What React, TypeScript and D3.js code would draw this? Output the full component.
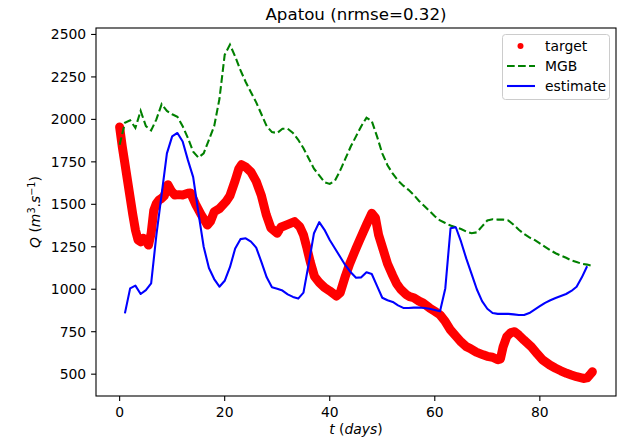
import React from "react";
import * as d3 from "d3";

const title = "Apatou (nrmse=0.32)";
const xTicks = [0, 20, 40, 60, 80];
const yTicks = [500, 750, 1000, 1250, 1500, 1750, 2000, 2250, 2500];

const mgbDays = d3.range(0, 91);
const mgbQ = [
  1850, 1980, 1995, 1950, 2050, 1960, 1935, 2000, 2090, 2050,
  2030, 2015, 1960, 1890, 1810, 1775, 1800, 1880, 1960, 2120,
  2380, 2440, 2370, 2290, 2220, 2160, 2100, 2030, 1960, 1925,
  1920, 1945, 1945, 1920, 1880, 1830, 1770, 1710, 1670, 1630,
  1620, 1640, 1700, 1770, 1840, 1900, 1960, 2010, 1990, 1900,
  1800, 1730, 1680, 1640, 1610, 1585, 1555, 1520, 1490, 1460,
  1430, 1405, 1390, 1375, 1365, 1355, 1340, 1330, 1335, 1370,
  1405, 1412, 1410, 1410, 1405, 1380, 1350, 1325, 1305, 1290,
  1270, 1250, 1230, 1212, 1198, 1185, 1170, 1160, 1150, 1145,
  1137,
];

const estDays = d3.range(1, 91);
const estQ = [
  858, 1005, 1021, 972, 995, 1035, 1320, 1560, 1800, 1900,
  1920, 1870, 1760, 1660, 1450, 1250, 1125, 1060, 1015, 1050,
  1130, 1240, 1295, 1300, 1280, 1245, 1160, 1070, 1012, 1003,
  992, 970, 955, 945, 980, 1150, 1330, 1395, 1350, 1290,
  1240, 1190, 1140, 1100, 1068, 1070, 1100, 1090, 1020, 950,
  935, 925, 905, 890, 890, 892, 893, 890, 885, 878,
  870, 1005, 1359, 1365, 1280, 1180, 1090, 1000, 930, 885,
  860, 855, 855, 855, 852, 848, 848, 860, 880, 900,
  920, 935, 948, 960, 972, 990, 1015, 1070, 1135,
];

const targetDays = [
  0, 0.5, 1, 1.5, 2, 2.5, 3, 3.5, 4, 4.5, 5, 5.5, 6, 6.5, 7, 7.5, 8, 8.5, 9.2, 9.8,
  10.5, 11.3, 12, 13, 13.5, 14.5, 15.5, 16.4, 16.7, 17.3, 18, 19, 20.3, 21, 22, 22.7, 23.2, 24, 25, 26,
  27, 27.9, 28.8, 30, 30.7, 31.7, 33.3, 34.3, 35, 35.6, 36.3, 37.1, 38, 39, 40, 41.3, 42, 43, 43.8, 45,
  45.7, 47, 48, 48.7, 49.3, 50.2, 51, 52, 52.7, 53.5, 54.5, 55.2, 56, 57, 57.8, 59, 60, 61, 62, 63,
  64.1, 65, 66, 66.7, 67.9, 69.2, 70, 71, 72, 72.5, 73, 73.7, 74.5, 75.2, 76, 77, 78.4, 79.5, 80.5, 81.9,
  83, 84, 85.1, 86, 87, 88.3, 89, 89.5, 90,
];
const targetQ = [
  1955, 1840, 1740, 1640, 1540, 1440, 1350, 1290, 1280, 1300, 1285, 1260, 1330, 1465, 1505, 1525, 1535, 1550, 1615, 1580,
  1555, 1557, 1555, 1565, 1567, 1498, 1440, 1395, 1378, 1400, 1456, 1475, 1518, 1550, 1640, 1710, 1733, 1720, 1690, 1635,
  1550, 1440, 1360, 1330, 1365, 1378, 1398, 1368, 1320, 1250, 1160, 1075, 1040, 1010, 990, 960, 980, 1080, 1150, 1240,
  1290, 1380, 1447, 1420, 1320, 1230, 1150, 1080, 1035, 1000, 970, 957, 950, 930, 918, 890, 870, 849, 810, 760,
  721, 690, 662, 652, 630, 614, 605, 600, 585, 590, 660, 721, 745, 750, 730, 700, 661, 620, 585, 554,
  535, 520, 505, 495, 485, 475, 478, 495, 514,
];

const W = 621;
const H = 442;
const L = 96, R = 616, T = 28, B = 396;
const FONT = "'DejaVu Sans', sans-serif";

export default function App() {
  const x = d3.scaleLinear().domain([-4.5, 94.5]).range([L, R]);
  const y = d3.scaleLinear().domain([371.5, 2538]).range([B, T]);

  const line = d3
    .line<[number, number]>()
    .x((d) => x(d[0]))
    .y((d) => y(d[1]));

  const mgbPath = line(mgbDays.map((d, i) => [d, mgbQ[i]] as [number, number])) || "";
  const estPath = line(estDays.map((d, i) => [d, estQ[i]] as [number, number])) || "";
  const tgtPath = line(targetDays.map((d, i) => [d, targetQ[i]] as [number, number])) || "";

  const fs = 13.9;
  const tick = 4.9;

  return (
    <svg width={W} height={H} style={{ display: "block", position: "absolute", left: 0, top: 0 }} fontFamily={FONT}>
      <rect x={0} y={0} width={W} height={H} fill="#fff" />
      <defs>
        <clipPath id="plotclip">
          <rect x={L} y={T} width={R - L} height={B - T} />
        </clipPath>
      </defs>
      <g clipPath="url(#plotclip)">
        <path d={tgtPath} fill="none" stroke="#ff0000" strokeWidth={9} strokeLinejoin="round" strokeLinecap="round" />
        <path d={mgbPath} fill="none" stroke="#008000" strokeWidth={2.08} strokeDasharray="7.7,3.33" />
        <path d={estPath} fill="none" stroke="#0000ff" strokeWidth={2.08} strokeLinejoin="round" />
      </g>
      {/* spines */}
      <rect x={L} y={T} width={R - L} height={B - T} fill="none" stroke="#000" strokeWidth={1.1} />
      {/* x ticks */}
      {xTicks.map((t) => (
        <g key={"x" + t}>
          <line x1={x(t)} x2={x(t)} y1={B} y2={B + tick} stroke="#000" strokeWidth={1.1} />
          <text x={x(t)} y={417} textAnchor="middle" fontSize={fs} fill="#000">
            {t}
          </text>
        </g>
      ))}
      {/* y ticks */}
      {yTicks.map((t) => (
        <g key={"y" + t}>
          <line x1={L - tick} x2={L} y1={y(t)} y2={y(t)} stroke="#000" strokeWidth={1.1} />
          <text x={L - tick - 4.9} y={y(t) + 5} textAnchor="end" fontSize={fs} fill="#000">
            {t}
          </text>
        </g>
      ))}
      {/* title */}
      <text x={(L + R) / 2} y={20} textAnchor="middle" fontSize={16.67} fill="#000">
        {title}
      </text>
      {/* x label */}
      <text x={(L + R) / 2} y={434} textAnchor="middle" fontSize={fs} fill="#000">
        <tspan fontStyle="italic">t</tspan>
        <tspan> (</tspan>
        <tspan fontStyle="italic">days</tspan>
        <tspan>)</tspan>
      </text>
      {/* y label */}
      <text transform={`translate(40, ${(T + B) / 2}) rotate(-90)`} textAnchor="middle" fontSize={fs} fill="#000">
        <tspan fontStyle="italic">Q</tspan>
        <tspan> (</tspan>
        <tspan fontStyle="italic">m</tspan>
        <tspan fontSize={9.7} dy={-5}>3</tspan>
        <tspan dy={5}>.</tspan>
        <tspan fontStyle="italic">s</tspan>
        <tspan fontSize={9.7} dy={-5}>−1</tspan>
        <tspan dy={5}>)</tspan>
      </text>
      {/* legend */}
      <g>
        <rect x={502.5} y={34.5} width={107} height={65} rx={3} fill="#fff" fillOpacity={0.8} stroke="#cccccc" strokeWidth={1} />
        <circle cx={520.5} cy={46} r={3} fill="#ff0000" />
        <text x={545} y={51} fontSize={fs} fill="#000">target</text>
        <line x1={507} x2={535} y1={66} y2={66} stroke="#008000" strokeWidth={2.08} strokeDasharray="7.7,3.33" />
        <text x={545} y={71} fontSize={fs} fill="#000">MGB</text>
        <line x1={507} x2={535} y1={86} y2={86} stroke="#0000ff" strokeWidth={2.08} />
        <text x={545} y={91} fontSize={fs} fill="#000">estimate</text>
      </g>
    </svg>
  );
}
